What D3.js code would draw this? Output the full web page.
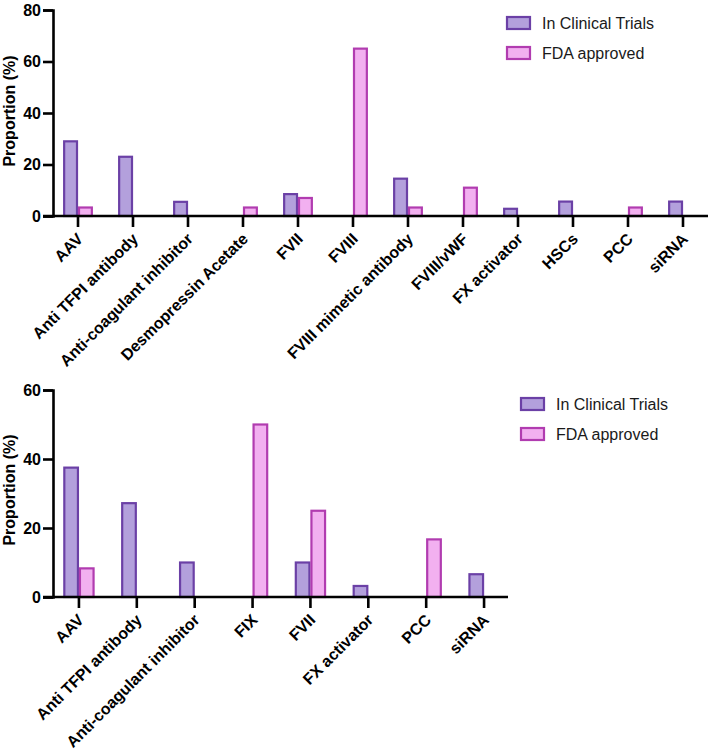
<!DOCTYPE html>
<html>
<head>
<meta charset="utf-8">
<script src="https://cdn.jsdelivr.net/npm/d3@7"></script>
<style>
  html, body { margin: 0; padding: 0; background: #fff; }
  svg { display: block; }
  text { font-family: "Liberation Sans", Arial, sans-serif; }
</style>
</head>
<body>
<svg id="chart" width="709" height="751"></svg>
<script>
// ---- Data ----
const seriesNames = ["In Clinical Trials", "FDA approved"];

const topCategories = ["AAV", "Anti TFPI antibody", "Anti-coagulant inhibitor", "Desmopressin Acetate",
  "FVII", "FVIII", "FVIII mimetic antibody", "FVIII/vWF", "FX activator", "HSCs", "PCC", "siRNA"];
const topTrials = [29.0, 23.0, 5.5, 0, 8.5, 0, 14.5, 0, 2.8, 5.6, 0, 5.6];
const topApproved = [3.3, 0, 0, 3.3, 7.0, 65.0, 3.3, 11.0, 0, 0, 3.3, 0];
const topTicks = [0, 20, 40, 60, 80];

const bottomCategories = ["AAV", "Anti TFPI antibody", "Anti-coagulant inhibitor", "FIX",
  "FVII", "FX activator", "PCC", "siRNA"];
const bottomTrials = [37.5, 27.2, 10.0, 0, 10.0, 3.2, 0, 6.6];
const bottomApproved = [8.3, 0, 0, 50.0, 25.0, 0, 16.7, 0];
const bottomTicks = [0, 20, 40, 60];

// ---- Styles ----
const fills = ["#b3a0dc", "#f2b0f0"];
const strokes = ["#6b40a6", "#b13cb0"];

const svg = d3.select("#chart");

function drawPanel(cfg) {
  const g = svg.append("g");
  const x0 = d3.scaleBand().domain(cfg.categories).range(cfg.xRange)
    .paddingInner(0.46).paddingOuter(0.23);
  const x1 = d3.scaleBand().domain(seriesNames).range([0, x0.bandwidth()]);
  const y = d3.scaleLinear().domain([0, cfg.yMax]).range(cfg.yRange);

  const rows = cfg.categories.map((c, i) => ({cat: c, vals: [cfg.trials[i], cfg.approved[i]]}));

  // bars
  const cg = g.selectAll("g.cat").data(rows).join("g")
    .attr("transform", d => `translate(${x0(d.cat)},0)`);
  cg.selectAll("rect").data(d => d.vals.map((v, k) => ({v, k})).filter(o => o.v > 0)).join("rect")
    .attr("x", o => x1(seriesNames[o.k]) + 1)
    .attr("width", x1.bandwidth() - 2)
    .attr("y", o => y(o.v))
    .attr("height", o => y(0) - y(o.v))
    .attr("fill", o => fills[o.k])
    .attr("stroke", o => strokes[o.k])
    .attr("stroke-width", 2.2);

  // y axis
  const yAxis = d3.axisLeft(y).tickValues(cfg.ticks).tickSize(10).tickPadding(2);
  const ya = g.append("g").attr("transform", `translate(${cfg.axisX},0)`).call(yAxis);
  ya.select(".domain").attr("stroke", "#000").attr("stroke-width", 2.6);
  ya.selectAll(".tick line").attr("stroke", "#000").attr("stroke-width", 2.6);
  ya.selectAll(".tick text").attr("fill", "#000").attr("font-size", 16).attr("font-weight", "bold");

  // x axis
  const xa = g.append("g");
  xa.append("line")
    .attr("x1", cfg.axisX - 10).attr("x2", cfg.axisEnd)
    .attr("y1", y(0)).attr("y2", y(0))
    .attr("stroke", "#000").attr("stroke-width", 2.6);
  const xt = xa.selectAll("g.xt").data(cfg.categories).join("g")
    .attr("transform", d => `translate(${x0(d) + x0.bandwidth() / 2},${y(0)})`);
  xt.append("line").attr("y1", 0).attr("y2", 11).attr("stroke", "#000").attr("stroke-width", 2.6);
  xt.append("text")
    .attr("transform", "translate(2,20) rotate(-45)")
    .attr("text-anchor", "end")
    .attr("dy", "0.35em")
    .attr("font-size", 16).attr("font-weight", "bold").attr("fill", "#000")
    .text(d => d);

  // y title
  g.append("text")
    .attr("transform", `translate(${cfg.titleX},${cfg.titleY}) rotate(-90)`)
    .attr("text-anchor", "middle")
    .attr("font-size", 16).attr("font-weight", "bold").attr("fill", "#000")
    .text("Proportion (%)");

  // legend
  const lg = g.append("g").attr("transform", `translate(${cfg.legendX},${cfg.legendY})`);
  const li = lg.selectAll("g").data(seriesNames).join("g")
    .attr("transform", (d, i) => `translate(0,${i * 30})`);
  li.append("rect").attr("x", 1).attr("y", -6).attr("width", 23).attr("height", 12)
    .attr("fill", (d, i) => fills[i]).attr("stroke", (d, i) => strokes[i]).attr("stroke-width", 2.2);
  li.append("text").attr("x", 36).attr("dy", "0.35em")
    .attr("font-size", 16).attr("fill", "#1a1a1a").text(d => d);
}

drawPanel({
  categories: topCategories, trials: topTrials, approved: topApproved, ticks: topTicks,
  yMax: 80, yRange: [216, 10], xRange: [50.5, 710.5], axisX: 53, axisEnd: 708,
  titleX: 15, titleY: 111, legendX: 506, legendY: 23
});

drawPanel({
  categories: bottomCategories, trials: bottomTrials, approved: bottomApproved, ticks: bottomTicks,
  yMax: 60, yRange: [597, 390], xRange: [50, 513], axisX: 53, axisEnd: 508,
  titleX: 15, titleY: 490, legendX: 520, legendY: 404
});
</script>
</body>
</html>
